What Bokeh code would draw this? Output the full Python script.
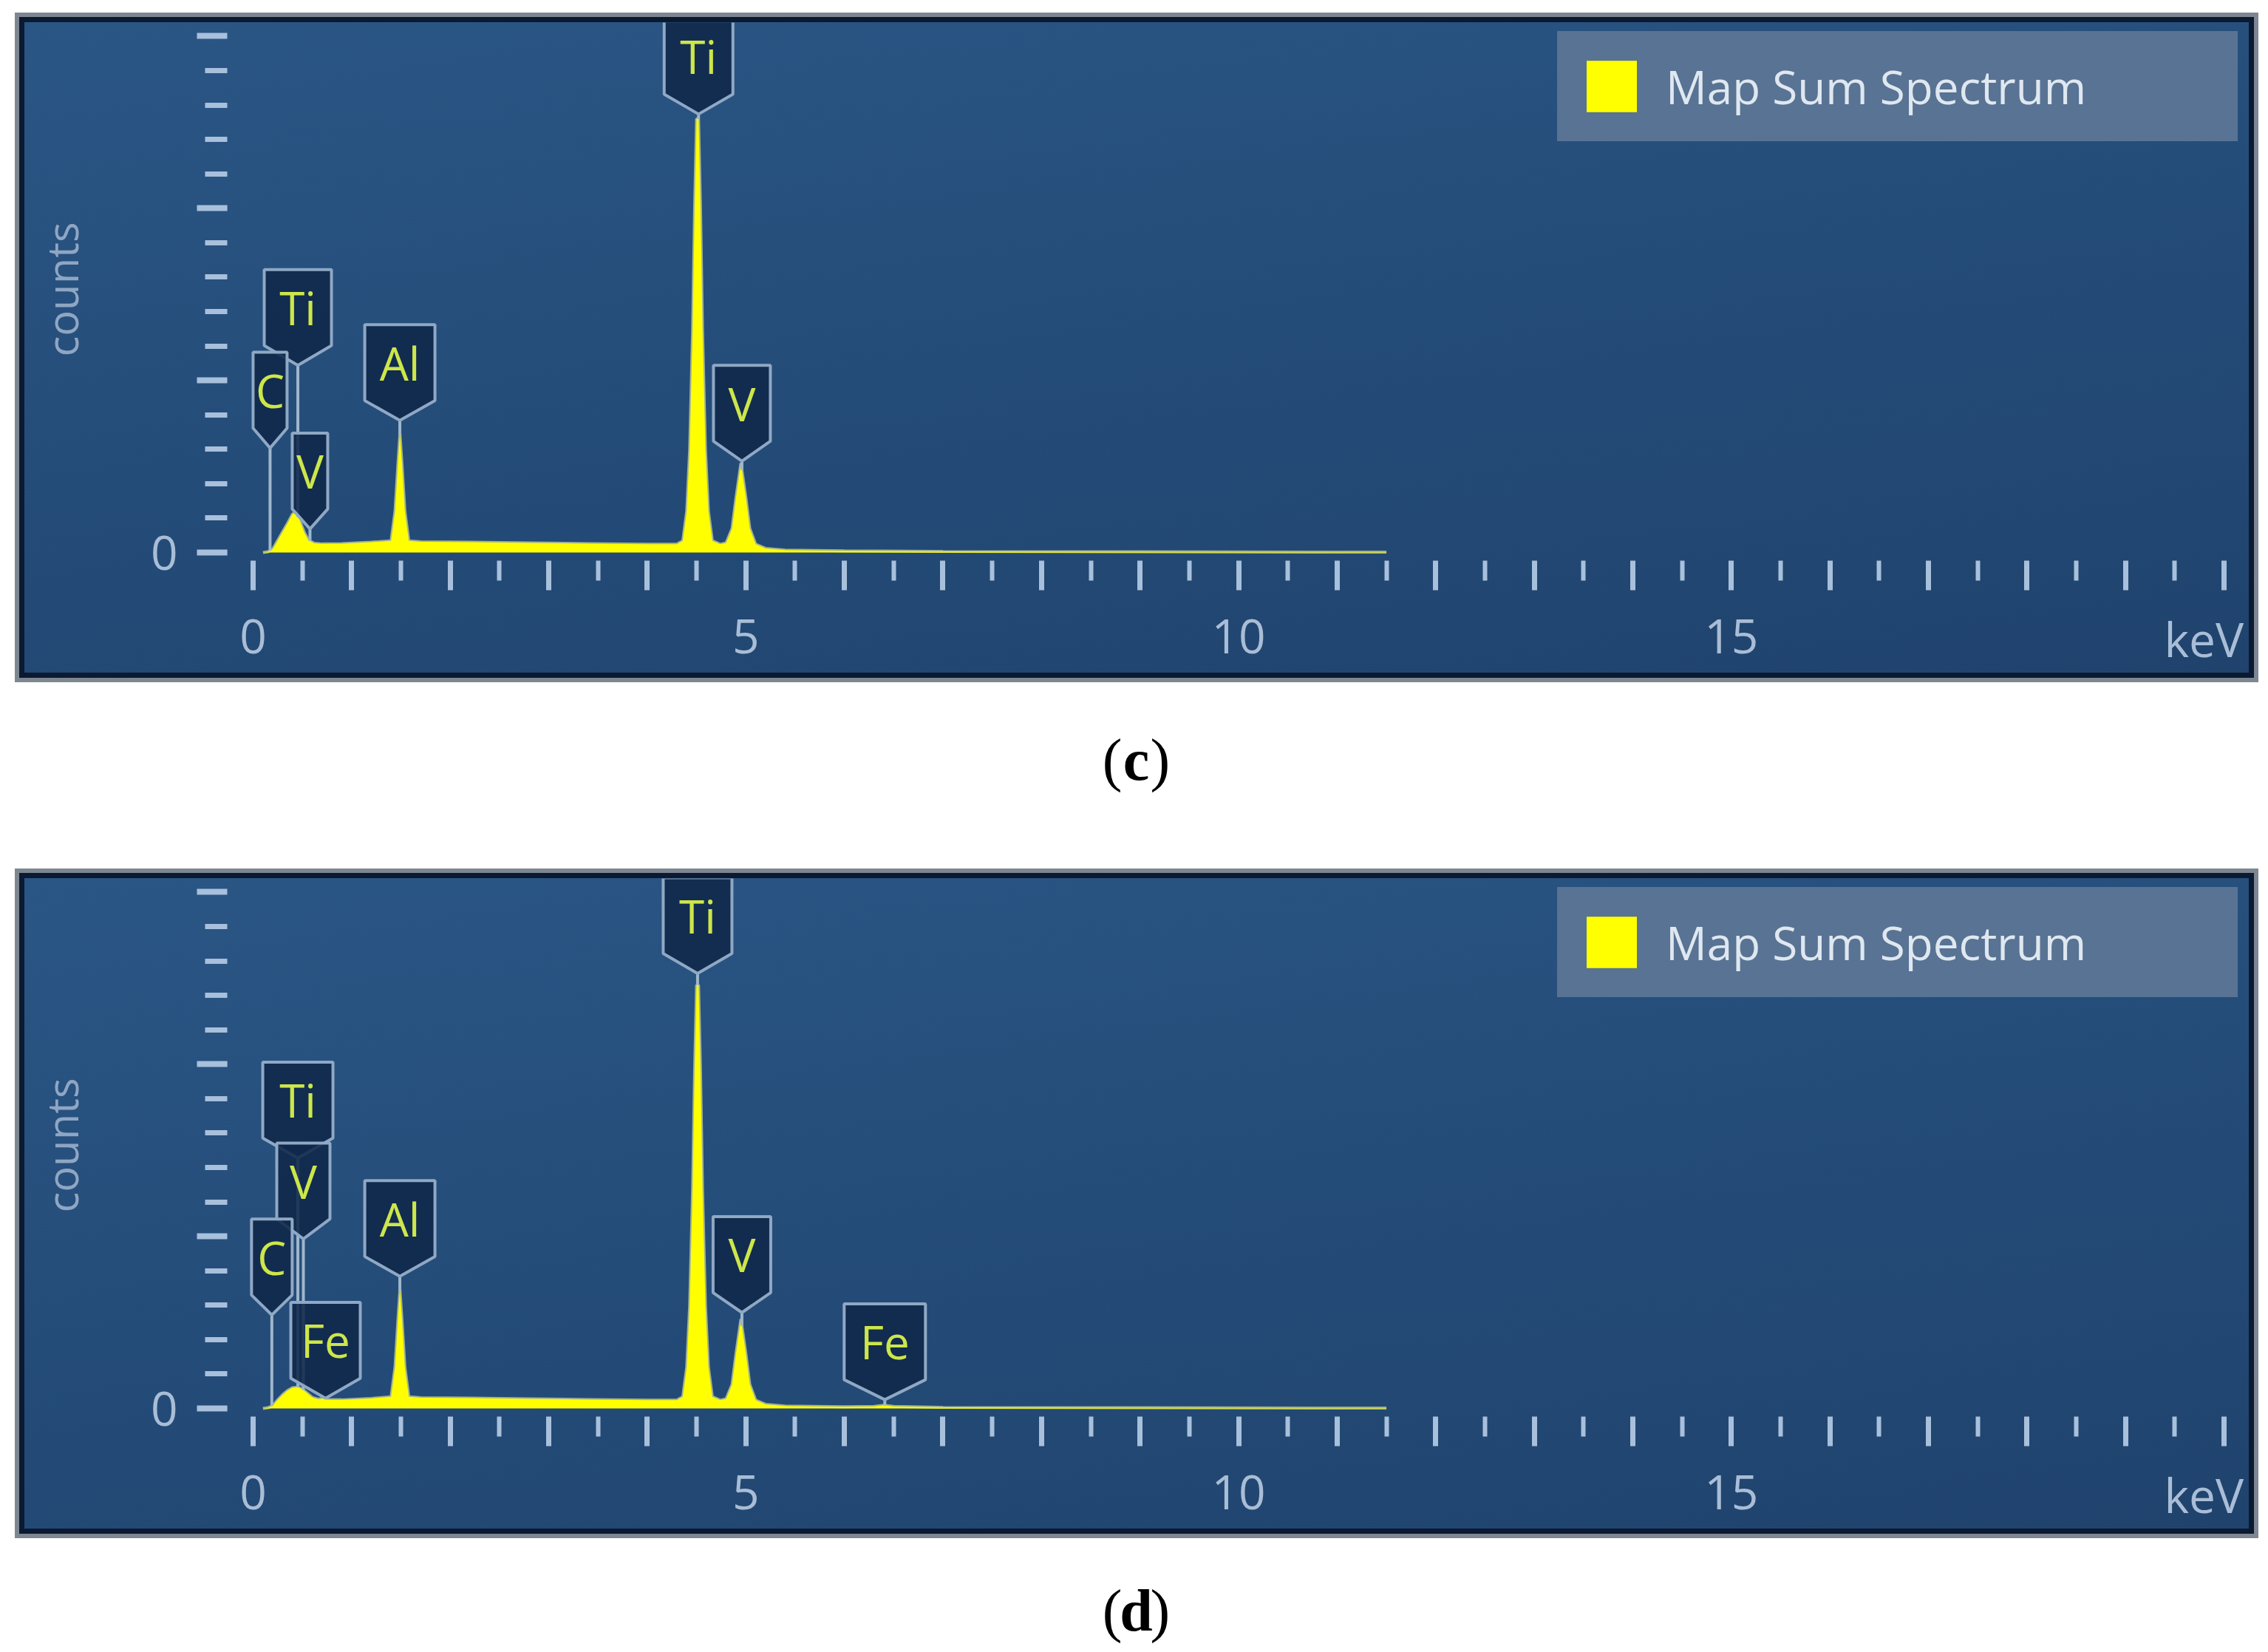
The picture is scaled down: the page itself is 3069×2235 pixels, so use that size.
import numpy as np
from bokeh.plotting import figure
from bokeh.models import (Range1d, FixedTicker, LinearAxis, Legend, LegendItem, Spacer)
from bokeh.layouts import column, row
from bokeh.core.properties import value
from bokeh.embed import file_html
from bokeh.resources import INLINE

# ---------------- data ----------------
# panel (c): energy in keV, counts in y-tick units
energy_c = [0.10, 0.15, 0.20, 0.25, 0.30, 0.35, 0.40, 0.43, 0.47, 0.52, 0.56, 0.62, 0.70, 0.90,
            1.20, 1.40, 1.44, 1.47, 1.49, 1.51, 1.54, 1.58, 1.70, 2.20, 2.80, 3.40, 4.00, 4.30,
            4.36, 4.40, 4.43, 4.46, 4.48, 4.50, 4.52, 4.54, 4.56, 4.59, 4.62, 4.66, 4.74, 4.80,
            4.86, 4.90, 4.95, 5.00, 5.04, 5.10, 5.20, 5.40, 6.00, 7.00, 9.00, 11.50]
counts_c = [0.00, 0.02, 0.10, 0.35, 0.60, 0.85, 1.12, 1.15, 0.95, 0.58, 0.36, 0.27, 0.25, 0.26,
            0.30, 0.34, 1.20, 2.60, 3.45, 2.60, 1.20, 0.34, 0.31, 0.30, 0.28, 0.26, 0.24, 0.24,
            0.34, 1.20, 3.00, 6.50, 10.00, 12.60, 12.60, 10.00, 6.50, 3.00, 1.20, 0.34, 0.24, 0.28,
            0.70, 1.60, 2.60, 1.60, 0.70, 0.24, 0.12, 0.07, 0.05, 0.03, 0.02, 0.01]

# panel (d)
energy_d = [0.10, 0.15, 0.20, 0.25, 0.30, 0.35, 0.40, 0.45, 0.50, 0.55,
            0.60, 0.66, 0.71, 0.76, 0.90, 1.20, 1.40, 1.44, 1.47, 1.49,
            1.51, 1.54, 1.58, 1.70, 2.20, 2.80, 3.40, 4.00, 4.30, 4.36,
            4.40, 4.43, 4.46, 4.48, 4.50, 4.52, 4.54, 4.56, 4.59, 4.62,
            4.66, 4.74, 4.80, 4.86, 4.90, 4.95, 5.00, 5.04, 5.10, 5.20,
            5.40, 6.00, 6.30, 6.40, 6.50, 7.00, 9.00, 11.50]
counts_d = [0.00, 0.02, 0.08, 0.25, 0.40, 0.52, 0.60, 0.62, 0.56, 0.44,
            0.32, 0.27, 0.29, 0.25, 0.25, 0.29, 0.34, 1.20, 2.60, 3.45,
            2.60, 1.20, 0.34, 0.31, 0.30, 0.28, 0.26, 0.24, 0.24, 0.34,
            1.20, 3.00, 6.40, 9.80, 12.30, 12.30, 9.80, 6.40, 3.00, 1.20,
            0.34, 0.24, 0.28, 0.70, 1.60, 2.60, 1.60, 0.70, 0.24, 0.12,
            0.07, 0.05, 0.06, 0.09, 0.06, 0.03, 0.02, 0.01]

# element tags
tags_c = ["Ti", "Ti", "C", "V", "Al", "V"]
tags_d = ["Ti", "Ti", "V", "C", "Al", "Fe", "V", "Fe"]

# axes text
x_major = [0, 5, 10, 15, 20]
x_major_labels = ["0", "5", "10", "15", ""]
x_unit = "keV"
y_axis_title = "counts"
series_name = "Map Sum Spectrum"
captions = ["c", "d"]

# ---------------- layout of the element tags (box centre keV, box top, box width px) ----------------
tag_x_c = [4.52, 0.454, 0.172, 0.577, 1.489, 4.96]
tag_top_c = [15.52, 8.22, 5.82, 3.47, 6.62, 5.44]
tag_w_c = [93, 91, 46, 48, 95, 77]

tag_x_d = [4.51, 0.454, 0.51, 0.19, 1.489, 0.735, 4.96, 6.41]
tag_top_d = [15.42, 10.06, 7.71, 5.50, 6.62, 3.08, 5.57, 3.04]
tag_w_d = [93, 95, 72, 55, 95, 94, 78, 110]

# ---------------- geometry ----------------
W, H = 3010, 880
ML, MR, MT, MB = 274, 3, 0, 156
X0, X1 = -0.2625, 20.232
Y0, Y1 = -0.107, 15.396
FW, FH = W - ML - MR, H - MT - MB
PXX = FW / (X1 - X0)
PXY = FH / (Y1 - Y0)

FONT = "Open Sans"
TICK_COL = "#a8c0dc"
LABEL_COL = "#a9bdd6"
TAG_TEXT = "#cde64a"
X_STANDOFF = 39
AXIS_PROPS = LinearAxis.properties()
HAS_ALIGN = "axis_label_align" in AXIS_PROPS
UNIT_PAD = "\u00a0" * 7    # pulls the end-anchored unit text back inside the panel


def spectrum_panel(energy, counts, tags, tag_x, tag_top, tag_w):
    p = figure(width=W, height=H, output_backend="svg", toolbar_location=None,
               x_range=Range1d(X0, X1), y_range=Range1d(Y0, Y1),
               x_axis_type=None, y_axis_type=None,
               min_border_left=ML, min_border_right=MR,
               min_border_top=MT, min_border_bottom=MB)
    p.border_fill_alpha = 0
    p.background_fill_alpha = 0
    p.outline_line_color = None
    p.styles = {
        "background": "linear-gradient(172deg, #2a5685 0%, #254d7a 45%, #1f436d 100%)",
        "box-shadow": "0 0 0 7px #0b1931, 0 0 0 13px #7d8792",
    }

    # main x axis: integer ticks (major) and half-keV ticks (minor)
    xa = LinearAxis(ticker=FixedTicker(ticks=list(range(0, 21)),
                                       minor_ticks=[i + 0.5 for i in range(20)]))
    xa.major_label_overrides = {i: "" for i in range(21)}
    for t, lab in zip(x_major, x_major_labels):
        xa.major_label_overrides[t] = lab
    xa.axis_line_color = None
    xa.major_tick_line_color = TICK_COL
    xa.minor_tick_line_color = TICK_COL
    xa.major_tick_line_width = 7
    xa.minor_tick_line_width = 6
    xa.major_tick_in = -6
    xa.major_tick_out = 46
    xa.minor_tick_in = -6
    xa.minor_tick_out = 33
    xa.major_label_standoff = X_STANDOFF
    xa.major_label_text_font = FONT
    xa.major_label_text_font_size = "64px"
    xa.major_label_text_color = LABEL_COL
    if HAS_ALIGN:
        xa.axis_label = x_unit + UNIT_PAD
        xa.axis_label_align = "end"
        xa.axis_label_standoff = -66
        xa.axis_label_text_font = FONT
        xa.axis_label_text_font_style = "normal"
        xa.axis_label_text_font_size = "64px"
        xa.axis_label_text_color = LABEL_COL
    else:
        xa.major_label_overrides[20] = x_unit
    p.add_layout(xa, "below")

    # long ticks every 5 keV
    xa2 = LinearAxis(ticker=FixedTicker(ticks=x_major, minor_ticks=[]), fixed_location=Y0)
    xa2.axis_line_color = None
    xa2.major_tick_line_color = TICK_COL
    xa2.major_tick_line_width = 7
    xa2.major_tick_in = -6
    xa2.major_tick_out = 61
    xa2.minor_tick_line_color = None
    xa2.major_label_text_color = None
    p.add_layout(xa2, "below")

    # y axes
    ya = LinearAxis(ticker=FixedTicker(ticks=[0, 5, 10, 15],
                                       minor_ticks=[i for i in range(16) if i % 5]))
    ya.major_label_overrides = {5: "", 10: "", 15: ""}
    ya.axis_line_color = None
    ya.major_tick_line_color = TICK_COL
    ya.minor_tick_line_color = TICK_COL
    ya.major_tick_line_width = 8
    ya.minor_tick_line_width = 7
    ya.major_tick_in = 0
    ya.major_tick_out = 41
    ya.minor_tick_in = 0
    ya.minor_tick_out = 30
    ya.major_label_standoff = 26
    ya.major_label_text_font = FONT
    ya.major_label_text_font_size = "64px"
    ya.major_label_text_color = LABEL_COL
    ya.axis_label = y_axis_title
    ya.axis_label_text_font = FONT
    ya.axis_label_text_font_style = "normal"
    ya.axis_label_text_font_size = "58px"
    ya.axis_label_text_color = "#8fa6c3"
    ya.axis_label_standoff = 78
    p.add_layout(ya, "left")

    ya2 = LinearAxis(ticker=FixedTicker(ticks=[0, 10], minor_ticks=[]), fixed_location=X0)
    ya2.axis_line_color = None
    ya2.major_tick_line_color = TICK_COL
    ya2.major_tick_line_width = 8
    ya2.major_tick_in = 0
    ya2.major_tick_out = 60
    ya2.minor_tick_line_color = None
    ya2.major_label_text_color = None
    p.add_layout(ya2, "left")

    # spectrum
    p.line(energy, counts, line_color="#c3cd95", line_width=4, line_alpha=0.8)
    area = p.varea(x=energy, y1=[0.0] * len(energy), y2=counts, fill_color="#ffff00")

    # tags: stems, boxes, text
    rh = 103 / PXY
    ph = 130 / PXY
    tip_y = [t - ph for t in tag_top]
    peak_y = [float(np.interp(x, energy, counts)) for x in tag_x]
    p.segment(x0=tag_x, y0=tip_y, x1=tag_x, y1=peak_y, line_color="#9fb6cc", line_width=4)
    xs, ys = [], []
    for cx, top, w in zip(tag_x, tag_top, tag_w):
        hw = w / 2 / PXX
        xs.append([cx - hw, cx + hw, cx + hw, cx, cx - hw])
        ys.append([top, top, top - rh, top - ph, top - rh])
    p.patches(xs, ys, fill_color="#10284a", fill_alpha=0.88,
              line_color="#8fa8c4", line_width=4)
    p.text(x=tag_x, y=[t - rh / 2 for t in tag_top], text=tags,
           text_font=value(FONT), text_font_size="62px", text_color=TAG_TEXT,
           text_align="center", text_baseline="middle")

    legend = Legend(items=[LegendItem(label=series_name, renderers=[area])],
                    location="top_right", margin=12, padding=30,
                    glyph_width=85, glyph_height=87, label_standoff=31,
                    label_width=743, label_height=87,
                    label_text_font=FONT, label_text_font_size="62px",
                    label_text_color="#dfe7f0",
                    background_fill_color="#587393", background_fill_alpha=1.0,
                    border_line_color="#587393", border_line_width=1)
    p.add_layout(legend)
    return p


def caption(letter, h, yfrac):
    c = figure(width=3053, height=h, output_backend="svg", toolbar_location=None,
               x_range=Range1d(0, 1), y_range=Range1d(0, 1),
               x_axis_type=None, y_axis_type=None, min_border=0)
    c.border_fill_alpha = 0
    c.background_fill_alpha = 0
    c.outline_line_color = None
    cx = 0.5034
    c.text(x=[cx], y=[yfrac], text=[letter], text_font=value("Liberation Serif"),
           text_font_style="bold", text_font_size="80px", text_color="black",
           text_align="center", text_baseline="middle")
    c.text(x=[cx], y=[yfrac], text=["("], x_offset=-19, text_font=value("Liberation Serif"),
           text_font_size="80px", text_color="black",
           text_align="right", text_baseline="middle")
    c.text(x=[cx], y=[yfrac], text=[")"], x_offset=19, text_font=value("Liberation Serif"),
           text_font_size="80px", text_color="black",
           text_align="left", text_baseline="middle")
    return c


fig_c = spectrum_panel(energy_c, counts_c, tags_c, tag_x_c, tag_top_c, tag_w_c)
fig_d = spectrum_panel(energy_d, counts_d, tags_d, tag_x_d, tag_top_d, tag_w_d)
cap_c = caption(captions[0], 278, 0.579)
cap_d = caption(captions[1], 165, 0.333)

layout = column(
    Spacer(width=10, height=30),
    row(Spacer(width=33, height=H), fig_c),
    cap_c,
    row(Spacer(width=33, height=H), fig_d),
    cap_d,
)

open("out.html", "w").write(file_html(layout, INLINE))
